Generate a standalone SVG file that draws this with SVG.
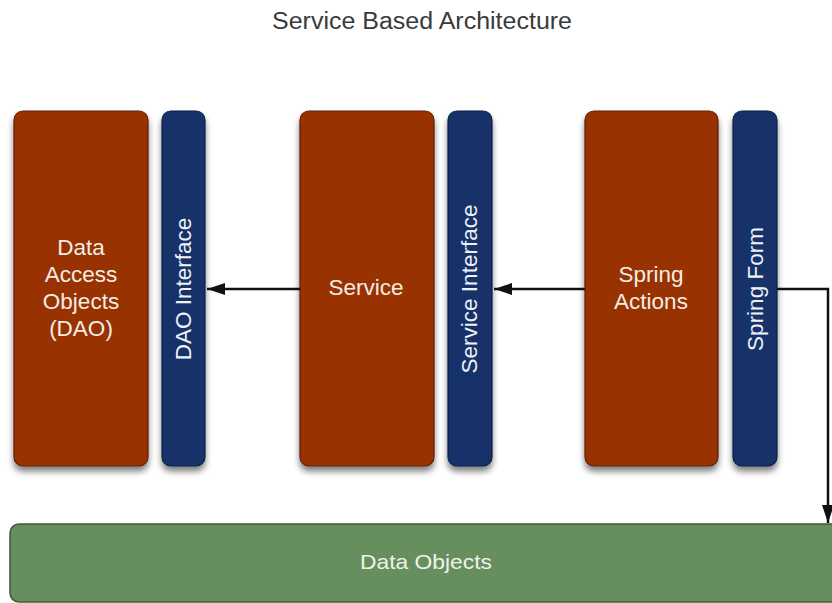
<svg xmlns="http://www.w3.org/2000/svg" width="832" height="603" viewBox="0 0 832 603">
<style>
.impl{fill:#983206;stroke:#5e2208;stroke-width:1.2}
.intf{fill:#133368;stroke:#0c2148;stroke-width:1.2}
.data{fill:#678f5d;stroke:#3f5a3a;stroke-width:1.5}
.lbl{font-family:"Liberation Sans",Arial,sans-serif;font-size:22.5px;fill:#f4ece6;text-anchor:middle}
.vl{font-family:"Liberation Sans",Arial,sans-serif;font-size:22.5px;fill:#eef1f7;text-anchor:middle}
.conn{fill:none;stroke:#111;stroke-width:2.5}
</style>
<defs>
<filter id="sh" x="-20%" y="-10%" width="140%" height="130%">
<feGaussianBlur in="SourceAlpha" stdDeviation="3"/>
<feOffset dx="0" dy="5" result="b"/>
<feComponentTransfer><feFuncA type="linear" slope="0.5"/></feComponentTransfer>
<feMerge><feMergeNode/><feMergeNode in="SourceGraphic"/></feMerge>
</filter>
<marker id="ah" viewBox="0 0 18 12" refX="18" refY="6" markerWidth="18" markerHeight="12" markerUnits="userSpaceOnUse" orient="auto">
<path d="M0,0 L18,6 L0,12 z" fill="#111"/>
</marker>
</defs>
<rect width="832" height="603" fill="#fff"/>
<text x="422" y="29" font-family="'Liberation Sans',Arial,sans-serif" font-size="23" fill="#3a3a3a" text-anchor="middle" textLength="300" lengthAdjust="spacingAndGlyphs">Service Based Architecture</text>

<g id="dao"><rect class="impl" x="14" y="111" width="134" height="355" rx="9" filter="url(#sh)"/>
<text class="lbl" x="81" y="255">Data</text><text class="lbl" x="81" y="282">Access</text><text class="lbl" x="81" y="309">Objects</text><text class="lbl" x="81" y="336">(DAO)</text></g>
<g id="dao-interface"><rect class="intf" x="162" y="111" width="43" height="355" rx="9" filter="url(#sh)"/>
<text class="vl" transform="translate(191,289) rotate(-90)">DAO Interface</text></g>

<g id="service"><rect class="impl" x="300" y="111" width="134" height="355" rx="9" filter="url(#sh)"/>
<text class="lbl" x="366" y="295">Service</text></g>
<g id="service-interface"><rect class="intf" x="448" y="111" width="44" height="355" rx="9" filter="url(#sh)"/>
<text class="vl" transform="translate(477,289) rotate(-90)">Service Interface</text></g>

<g id="spring-actions"><rect class="impl" x="585" y="111" width="133" height="355" rx="9" filter="url(#sh)"/>
<text class="lbl" x="651" y="282">Spring</text><text class="lbl" x="651" y="309">Actions</text></g>
<g id="spring-form"><rect class="intf" x="733" y="111" width="44" height="355" rx="9" filter="url(#sh)"/>
<text class="vl" transform="translate(763,289) rotate(-90)">Spring Form</text></g>

<g id="data-objects"><rect class="data" x="10" y="524" width="840" height="78" rx="9"/>
<text x="426" y="569" font-family="'Liberation Sans',Arial,sans-serif" font-size="21" fill="#eef2ea" text-anchor="middle" textLength="132" lengthAdjust="spacingAndGlyphs">Data Objects</text></g>

<g id="connectors">
<line class="conn" x1="300" y1="289" x2="207" y2="289" marker-end="url(#ah)"/>
<line class="conn" x1="585" y1="289" x2="494" y2="289" marker-end="url(#ah)"/>
<polyline class="conn" points="777,289 828,289 828,523" marker-end="url(#ah)"/>
</g>
</svg>
